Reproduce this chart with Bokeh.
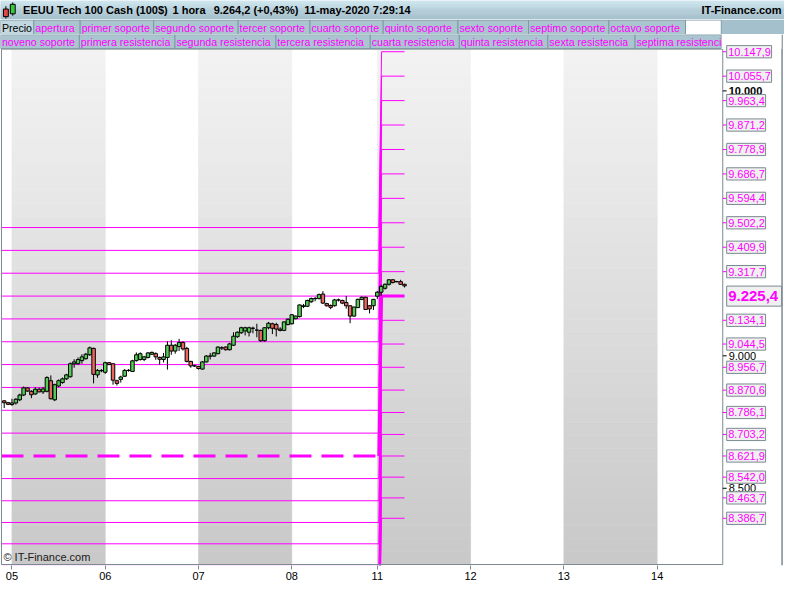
import numpy as np
from bokeh.plotting import figure
from bokeh.models import Range1d, FixedTicker, ColumnDataSource
from bokeh.layouts import column
from bokeh.embed import file_html
from bokeh.resources import INLINE
from bokeh.core.properties import value

# ---------------- data ----------------
bars = list(range(104))
opens = [8830, 8823, 8816, 8822, 8834, 8852, 8879, 8866, 8856, 8874, 8864, 8866, 8906, 8834, 8886, 8899,
         8913, 8921, 8970, 8970, 8982, 8989, 9004, 9028, 8928, 8944, 8938, 8974, 8970, 8906, 8911, 8923,
         8945, 8941, 8982, 8986, 8986, 8994, 9006, 9008, 8994, 8986, 8994, 9040, 9018, 9035, 9050, 9028,
         8979, 8962, 8960, 8950, 8977, 8999, 8999, 9008, 9030, 9033, 9023, 9040, 9072, 9087, 9094, 9089,
         9104, 9097, 9096, 9057, 9106, 9121, 9118, 9101, 9096, 9118, 9121, 9140, 9148, 9186, 9187, 9204,
         9216, 9216, 9233, 9197, 9190, 9189, 9211, 9209, 9201, 9189, 9150, 9182, 9213, 9221, 9189, 9189,
         9225, 9240, 9255, 9270, 9287, 9280, 9280, 9270]
highs = [8833, 8826, 8838, 8840, 8857, 8884, 8882, 8870, 8882, 8880, 8882, 8923, 8926, 8895, 8911, 8918,
         8932, 8975, 8987, 8994, 9006, 9011, 9035, 9031, 8950, 8950, 8978, 8976, 8972, 8910, 8925, 8950,
         8950, 8985, 9013, 9013, 9000, 9014, 9016, 9013, 8997, 9011, 9055, 9059, 9045, 9064, 9055, 9034,
         8981, 8966, 8962, 8980, 9003, 9011, 9014, 9036, 9036, 9036, 9049, 9089, 9092, 9110, 9110, 9110,
         9110, 9121, 9099, 9108, 9128, 9125, 9125, 9108, 9130, 9141, 9158, 9152, 9194, 9196, 9212, 9220,
         9222, 9235, 9244, 9200, 9194, 9215, 9216, 9212, 9226, 9190, 9186, 9216, 9224, 9223, 9192, 9215,
         9245, 9268, 9273, 9290, 9290, 9283, 9287, 9272]
lows = [8803, 8814, 8811, 8816, 8829, 8848, 8864, 8840, 8853, 8862, 8856, 8862, 8835, 8829, 8882, 8895,
        8909, 8918, 8955, 8966, 8970, 8986, 9000, 8896, 8917, 8938, 8932, 8965, 8891, 8888, 8899, 8920,
        8940, 8940, 8978, 8982, 8980, 8990, 9003, 8985, 8966, 8975, 8948, 9004, 9008, 9018, 9020, 8975,
        8955, 8958, 8948, 8948, 8975, 8986, 8996, 9006, 9022, 9020, 9020, 9038, 9068, 9083, 9077, 9073,
        9085, 9070, 9052, 9053, 9100, 9082, 9073, 9092, 9093, 9115, 9118, 9138, 9145, 9180, 9184, 9200,
        9206, 9213, 9196, 9186, 9176, 9186, 9205, 9195, 9178, 9123, 9148, 9180, 9210, 9173, 9160, 9173,
        9215, 9226, 9250, 9265, 9273, 9277, 9268, 9258]
closes = [8823, 8817, 8822, 8836, 8852, 8879, 8867, 8853, 8874, 8864, 8875, 8918, 8838, 8891, 8906, 8913,
          8928, 8970, 8977, 8986, 8996, 9006, 9030, 8930, 8945, 8944, 8974, 8967, 8908, 8896, 8920, 8945,
          8945, 8981, 9004, 9008, 8996, 9011, 9013, 8996, 8987, 8996, 9040, 9018, 9040, 9050, 9026, 8979,
          8962, 8962, 8952, 8977, 8999, 8999, 9011, 9033, 9030, 9023, 9045, 9074, 9089, 9106, 9106, 9106,
          9104, 9097, 9057, 9106, 9123, 9104, 9101, 9096, 9128, 9138, 9155, 9150, 9192, 9189, 9209, 9216,
          9216, 9231, 9199, 9189, 9183, 9211, 9211, 9199, 9189, 9150, 9184, 9213, 9221, 9175, 9177, 9213,
          9240, 9262, 9270, 9287, 9277, 9280, 9270, 9264]

day_starts = [2, 26, 50, 74, 96, 120, 144, 168]
day_labels = ["05", "06", "07", "08", "11", "12", "13", "14"]
week_start = 96

prev_open = 8622.0
prev_res = [8708.2, 8794.4, 8880.7, 8966.9, 9053.1, 9139.3, 9225.5, 9311.8, 9398.0, 9484.2]
prev_sup = [8536.6, 8452.9, 8370.9, 8290.4, 8211.4, 8134.0, 8057.9, 7983.3, 7910.1, 7838.2]
cur_open = 9225.4
cur_res = [9317.7, 9409.9, 9502.2, 9594.4, 9686.7, 9778.9, 9871.2, 9963.4, 10055.7, 10147.9]
cur_sup = [9134.1, 9044.5, 8956.7, 8870.6, 8786.1, 8703.2, 8621.9, 8542.0, 8463.7, 8386.7]
round_ticks = [8500, 9000, 10000]

title_text = "EEUU Tech 100 Cash (100$)"
timeframe_text = "1 hora"
price_text = "9.264,2 (+0,43%)"
time_text = "11-may-2020 7:29:14"
site_text = "IT-Finance.com"
watermark_text = "\u00a9 IT-Finance.com"
legend_row1 = ["Precio", "apertura", "primer soporte", "segundo soporte", "tercer soporte",
               "cuarto soporte", "quinto soporte", "sexto soporte", "septimo soporte", "octavo soporte", ""]
legend_row2 = ["noveno soporte", "primera resistencia", "segunda resistencia", "tercera resistencia",
               "cuarta resistencia", "quinta resistencia", "sexta resistencia", "septima resistencia"]

# ---------------- style / layout ----------------
FONT = "Liberation Sans"
MAGENTA = "#ff00ff"
GRAYLINE = "#7a8a90"
BOXLINE = "#7f98a2"
BOXFILL = "#aac5d0"
LEG_FS = "10.6px"
W = 784
HEAD_H, LEG_H, MAIN_H = 19, 15, 550
row1_edges = [0, 34, 81.3, 156.3, 242.5, 315.8, 390.5, 466.8, 538.8, 620.8, 699, 735.5]
row2_edges = [0, 80.5, 178, 281, 377.3, 468.2, 558.5, 647.5, 735.5]


def lerp_hex(c0, c1, t):
    a = [int(c0[i:i + 2], 16) for i in (1, 3, 5)]
    b = [int(c1[i:i + 2], 16) for i in (1, 3, 5)]
    return "#%02x%02x%02x" % tuple(int(round(a[k] + (b[k] - a[k]) * t)) for k in range(3))


def eu(v):
    s = f"{v:,.1f}"
    return s.replace(",", "X").replace(".", ",").replace("X", ".")


# layout calibration: reference-pixel position -> data coordinate (for frame decorations)
def ux(px):
    return (px - 3.77) / 3.966


def vy(py):
    return 9225.4 - (py - 304.0) / 0.2724


def dv(px):
    return px / 0.2724


# ---------------- header ----------------
h = figure(width=W, height=HEAD_H, x_range=Range1d(0, 800), y_range=Range1d(20, 0),
           toolbar_location=None, output_backend="svg", x_axis_location=None, y_axis_location=None,
           min_border=0)
h.grid.visible = False
h.outline_line_color = None
nst = 20
edges = np.linspace(0, 20, nst + 1)
hcols = [lerp_hex("#cfe5ee", "#9fbcc8", (k + 0.5) / nst) for k in range(nst)]
h.quad(left=0, right=800, top=edges[:-1], bottom=edges[1:], fill_color=hcols, line_color=hcols, line_width=0.5)
h.segment(x0=[5.5, 12.5], y0=[6, 2], x1=[5.5, 12.5], y1=[19, 16], line_color="black", line_width=1)
h.quad(left=[3, 10], right=[8, 15], top=[9, 4], bottom=[17, 14], fill_color=["#e04848", "#3cc83c"],
       line_color="black", line_width=1)
h.text(x=[23, 175.5, 217.5, 310], y=[10.5] * 4, text=[title_text, timeframe_text, price_text, time_text],
       text_font=value(FONT), text_font_size="11px", text_font_style="bold", text_color="black",
       text_baseline="middle")
h.text(x=[797], y=[10.5], text=[site_text], text_font=value(FONT), text_font_size="11px",
       text_font_style="bold", text_color="black", text_baseline="middle", text_align="right")

# ---------------- legend row 1 ----------------
lg = figure(width=W, height=LEG_H, x_range=Range1d(0, 800), y_range=Range1d(35, 20),
            toolbar_location=None, output_backend="svg", x_axis_location=None, y_axis_location=None,
            min_border=0)
lg.grid.visible = False
lg.outline_line_color = None
lg.quad(left=735.5, right=800, top=20, bottom=35, fill_color="#a3c0cc", line_color=None)
r1_fill = ["#c2d8e0"] + [BOXFILL] * (len(legend_row1) - 2) + ["white"]
lg.quad(left=row1_edges[:-1], right=row1_edges[1:], top=20.5, bottom=35, fill_color=r1_fill,
        line_color=BOXLINE, line_width=1)
r1_cols = ["black"] + [MAGENTA] * (len(legend_row1) - 1)
lg.text(x=[e + 1.5 for e in row1_edges[:-1]], y=[28] * len(legend_row1), text=legend_row1,
        text_font=value(FONT), text_font_size=LEG_FS, text_color=r1_cols, text_baseline="middle")

# ---------------- main chart ----------------
cl, cr, cb, ct = ux(1), ux(737), vy(580), vy(50)
p = figure(width=W, height=MAIN_H, x_range=Range1d(ux(0), ux(800)), y_range=Range1d(vy(581), vy(35)),
           toolbar_location=None, output_backend="svg", y_axis_location=None,
           min_border_left=0, min_border_right=0, min_border_top=0, min_border_bottom=19)
p.grid.visible = False
p.outline_line_color = None
p.background_fill_color = "white"
p.border_fill_color = "white"

# day bands with vertical gradient
bounds = [cl] + day_starts + [cr]
nb = 40
ys = np.linspace(cb, ct, nb + 1)
bl, br, bt, bb, bc = [], [], [], [], []
for i in range(1, len(bounds) - 1, 2):
    for k in range(nb):
        col = lerp_hex("#c8c8c8", "#f3f3f3", (k + 0.5) / nb)
        bl.append(bounds[i]); br.append(bounds[i + 1])
        bb.append(ys[k]); bt.append(ys[k + 1]); bc.append(col)
p.quad(left=bl, right=br, bottom=bb, top=bt, fill_color=bc, line_color=bc, line_width=0.6)

# pivot level lines
xa = week_start + 0.4
xb = week_start + 1.1
xe = bars[-1]
mxs, mys = [], []
for pv, cv in zip(prev_res + prev_sup, cur_res + cur_sup):
    mxs.append([cl, xa, xb, xe])
    mys.append([pv, pv, cv, cv])
p.multi_line(mxs, mys, line_color=MAGENTA, line_width=1)
p.line([cl, xa], [prev_open, prev_open], line_color=MAGENTA, line_width=3, line_dash="22 10")
p.line([xa, xb, xe], [prev_open, cur_open, cur_open], line_color=MAGENTA, line_width=3)

# candles
src = ColumnDataSource(dict(
    x=bars, h=highs, l=lows,
    top=[max(o, c) for o, c in zip(opens, closes)],
    bottom=[min(o, c) for o, c in zip(opens, closes)],
    color=["#55cc55" if c >= o else "#e8675f" for o, c in zip(opens, closes)],
))
p.segment(x0="x", y0="h", x1="x", y1="l", source=src, line_color="black", line_width=1)
p.vbar(x="x", width=0.9, top="top", bottom="bottom", fill_color="color", line_color="black",
       line_width=1, source=src)

# mask below the chart bottom and chart outline
p.quad(left=ux(0), right=ux(800), top=cb, bottom=vy(581), fill_color="white", line_color=None)
p.quad(left=cl, right=cr, top=ct, bottom=cb, fill_color=None, line_color=GRAYLINE, line_width=1)
p.segment(x0=[ux(797.5)], y0=[vy(35)], x1=[ux(797.5)], y1=[vy(581)], line_color=GRAYLINE, line_width=1.5)

# legend row 2 (inside the top strip of the main frame)
p.quad(left=[ux(e) for e in row2_edges[:-1]], right=[ux(e) for e in row2_edges[1:]],
       top=vy(35.2), bottom=vy(49.5), fill_color=BOXFILL, line_color=BOXLINE, line_width=1)
p.text(x=[ux(e + 1.5) for e in row2_edges[:-1]], y=[vy(42.5)] * len(legend_row2), text=legend_row2,
       text_font=value(FONT), text_font_size=LEG_FS, text_color=MAGENTA, text_baseline="middle")
p.quad(left=ux(736), right=ux(797), top=vy(35), bottom=vy(49.8), fill_color="white", line_color=None)

# price axis: ticks, round-number labels and level boxes
all_levels = cur_res + cur_sup
p.segment(x0=[cr] * len(all_levels), y0=all_levels, x1=[ux(741)] * len(all_levels), y1=all_levels,
          line_color=MAGENTA, line_width=1)
p.segment(x0=[cr] * len(round_ticks), y0=round_ticks, x1=[ux(741)] * len(round_ticks), y1=round_ticks,
          line_color="black", line_width=1)
p.text(x=[ux(743)] * len(round_ticks), y=round_ticks, text=[f"{t:,}".replace(",", ".") for t in round_ticks],
       text_font=value(FONT), text_font_size="11px", text_color="black", text_baseline="middle",
       text_font_style=["normal", "normal", "bold"])

lab_text = [eu(v) for v in all_levels]
lab_w = [6.1 * sum(ch.isdigit() for ch in s) + 6.2 + 3 for s in lab_text]
p.quad(left=[ux(741)] * len(all_levels), right=[ux(741 + w) for w in lab_w],
       top=[v + dv(6.3) for v in all_levels], bottom=[v - dv(6.3) for v in all_levels],
       fill_color="#f0f0f0", line_color=GRAYLINE, line_width=1)
p.text(x=[ux(742.5)] * len(all_levels), y=all_levels, text=lab_text, text_font=value(FONT),
       text_font_size="11px", text_color=MAGENTA, text_baseline="middle")
p.quad(left=[ux(741)], right=[ux(797)], top=[cur_open + dv(10.3)], bottom=[cur_open - dv(10.3)],
       fill_color="#f0f0f0", line_color=GRAYLINE, line_width=1)
p.text(x=[ux(742.5)], y=[cur_open], text=[eu(cur_open)], text_font=value(FONT), text_font_size="15px",
       text_font_style="bold", text_color=MAGENTA, text_baseline="middle")

# watermark
p.text(x=[ux(3)], y=[vy(578)], text=[watermark_text], text_font=value(FONT), text_font_size="11px",
       text_color="#1a1a1a", text_baseline="bottom")

# time axis
xa_ = p.xaxis[0]
xa_.ticker = FixedTicker(ticks=day_starts)
xa_.major_label_overrides = {d: l for d, l in zip(day_starts, day_labels)}
xa_.major_tick_out = 4
xa_.major_tick_in = 0
xa_.minor_tick_line_color = None
xa_.major_tick_line_color = GRAYLINE
xa_.axis_line_color = None
xa_.major_label_text_font = FONT
xa_.major_label_text_font_size = "11px"
xa_.major_label_text_color = "black"
xa_.major_label_standoff = 2

layout = column(h, lg, p, spacing=0)
open("out.html", "w").write(file_html(layout, INLINE))
